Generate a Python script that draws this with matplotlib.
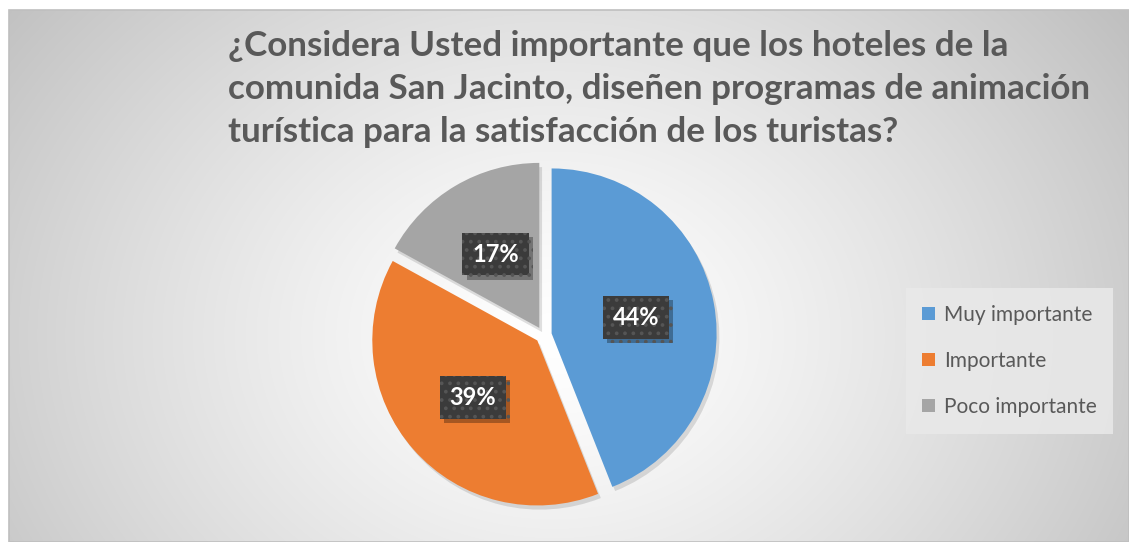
import numpy as np
import matplotlib
matplotlib.use("Agg")
import matplotlib.pyplot as plt
from matplotlib.patches import Rectangle, Patch
import matplotlib.patheffects as pe

TITLE = ("¿Considera Usted importante que los hoteles de la\n"
         "comunida San Jacinto, diseñen programas de animación\n"
         "turística para la satisfacción de los turistas?")
CATEGORIES = ["Muy importante", "Importante", "Poco importante"]
VALUES = [44, 39, 17]
COLORS = ["#5b9bd5", "#ed7d31", "#a5a5a5"]

W, H = 1129, 542
plt.rcParams["font.family"] = ["Lato", "DejaVu Sans"]
plt.rcParams["hatch.linewidth"] = 1.5

fig = plt.figure(figsize=(W / 100, H / 100), dpi=100)

# chart area background: radial gradient, white in the middle
bg = fig.add_axes([9 / W, 0, 1 - 9 / W, 1 - 10 / H])
bg.set_axis_off()
yy, xx = np.mgrid[0:532, 0:1120]
cx, cy = 545, 325
d = np.sqrt(((xx - cx) / 700.0) ** 2 + ((yy - cy) / 560.0) ** 2)
d = np.clip(d, 0, 1)
shade = 1.0 - 0.25 * d ** 1.3
img = np.dstack([shade, shade, shade])
bg.imshow(img, aspect="auto", extent=[0, 1, 0, 1], interpolation="bilinear")
bg.set_xlim(0, 1)
bg.set_ylim(0, 1)
bg.add_patch(Rectangle((0, 0), 1, 1, fill=False, ec="#bfbfbf", lw=1.2,
                       transform=bg.transAxes, clip_on=False))

# pie
r = 165
pcx, pcy = 543.5, H - 335
ax = fig.add_axes([(pcx - r) / W, (pcy - r) / H, 2 * r / W, 2 * r / H])
explode = [0.05] * len(VALUES)

wedges, _ = ax.pie(VALUES, explode=explode, startangle=90, counterclock=False,
                   colors=COLORS, radius=1.0,
                   wedgeprops=dict(lw=0, clip_on=False))
for w in wedges:
    w.set_path_effects([pe.SimplePatchShadow(offset=(2, -3), shadow_rgbFace="black",
                                             alpha=0.12), pe.Normal()])
ax.set_xlim(-1, 1)
ax.set_ylim(-1, 1)
ax.set_aspect("equal")
ax.set_axis_off()

# data labels
angle = 90.0
total = sum(VALUES)
for v in VALUES:
    span = 360.0 * v / total
    mid = np.deg2rad(angle - span / 2)
    angle -= span
    dist = 0.57
    x, y = dist * np.cos(mid), dist * np.sin(mid)
    t = ax.text(x, y, f"{v}%", ha="center", va="center", fontsize=17,
                fontweight="bold", color="white",
                bbox=dict(boxstyle="square,pad=0.42", fc="#3b3b3b", ec="#555555",
                          lw=0, hatch=".."))
    t.get_bbox_patch().set_path_effects([
        pe.SimplePatchShadow(offset=(3, -3), shadow_rgbFace="black", alpha=0.3),
        pe.Normal()])

# title
fig.text(228 / W, 1 - 30 / H, TITLE, ha="left", va="top", fontsize=25.2,
         fontweight="bold", color="#595959", linespacing=1.42)

# legend
handles = [Patch(facecolor=c, edgecolor="none") for c in COLORS]
leg = fig.legend(handles, CATEGORIES, loc="center left",
                 bbox_to_anchor=(912 / W, 1 - 361 / H), frameon=True,
                 fontsize=15, labelspacing=1.25, handlelength=0.62,
                 handleheight=0.62, handletextpad=0.4, borderpad=0.5,
                 borderaxespad=0.0)
frame = leg.get_frame()
frame.set_facecolor("#e9e9e9")
frame.set_edgecolor("none")
frame.set_alpha(0.85)
frame.set_boxstyle("square")
for t in leg.get_texts():
    t.set_color("#595959")

fig.savefig("out.png", dpi=100)
